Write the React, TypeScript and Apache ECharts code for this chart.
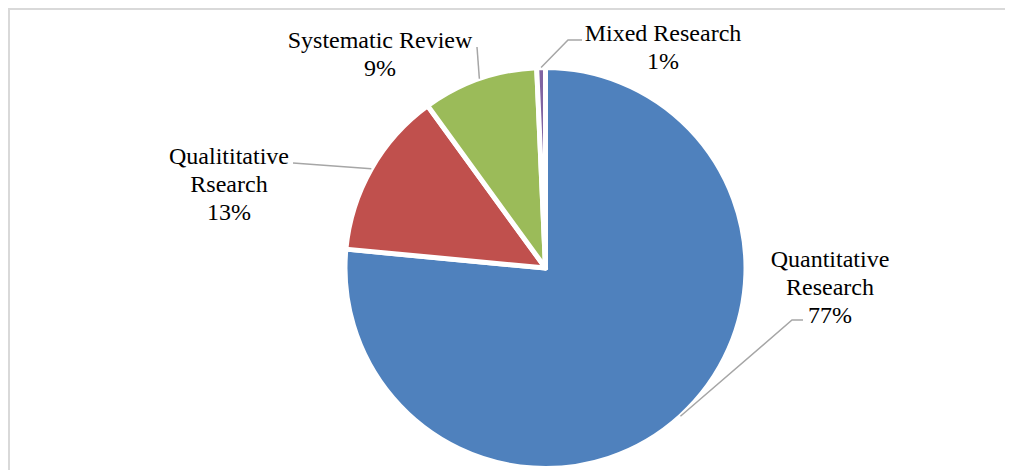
import React, { useEffect, useRef } from "react";
import * as echarts from "echarts";

const categories = ["Quantitative\nResearch", "Qualititative\nRsearch", "Systematic Review", "Mixed Research"];
const values = [76.5, 13.5, 9.3, 0.7];
const percentLabels = ["77%", "13%", "9%", "1%"];
const colors = ["#4F81BD", "#C0504D", "#9BBB59", "#8064A2"];
const labelPos = [
  [820, 277],
  [219, 174],
  [370, 44],
  [653, 37],
];
// elbow and end of each leader line (chart coords)
const leaderPts = [
  [[782, 310], [793, 310]],
  [[283, 153], [283, 153]],
  [[467, 37], [467, 37]],
  [[558, 30], [572, 30]],
];

const CX = 535.5;
const CY = 258;
const R = 200.5;

export default function App() {
  const ref = useRef<HTMLDivElement>(null);
  useEffect(() => {
    document.body.style.overflow = "hidden";
    const chart = echarts.init(ref.current!, undefined, { renderer: "svg" });
    const total = values.reduce((a, b) => a + b, 0);
    let acc = 0;
    const lines = values.map((v, i) => {
      const mid = ((acc + v / 2) / total) * Math.PI * 2; // clockwise from top
      acc += v;
      const ax = CX + R * Math.sin(mid);
      const ay = CY - R * Math.cos(mid);
      return {
        type: "polyline",
        silent: true,
        shape: { points: [[ax, ay], leaderPts[i][0], leaderPts[i][1]] },
        style: { stroke: "#a6a6a6", lineWidth: 1.5, fill: "none" },
        z: 10,
      };
    });
    const font = "'Times New Roman', 'Liberation Serif', serif";
    chart.setOption({
      animation: false,
      backgroundColor: "#ffffff",
      textStyle: { fontFamily: font },
      graphic: lines,
      series: [
        {
          type: "pie",
          center: [CX, CY],
          radius: R,
          startAngle: 90,
          clockwise: true,
          data: categories.map((c, i) => ({ name: c, value: values[i], itemStyle: { color: colors[i] } })),
          itemStyle: { borderColor: "#ffffff", borderWidth: 5 },
          label: {
            show: true,
            formatter: (p: any) => `${p.name}\n${percentLabels[p.dataIndex]}`,
            fontFamily: font,
            fontSize: 24,
            lineHeight: 28,
            color: "#000000",
            align: "center",
          },
          labelLine: { show: false },
          labelLayout: (params: any) => ({
            x: labelPos[params.dataIndex][0],
            y: labelPos[params.dataIndex][1],
            align: "center",
            verticalAlign: "middle",
          }),
        },
      ],
    });
    return () => chart.dispose();
  }, []);
  return (
    <div
      ref={ref}
      style={{
        width: 1005,
        height: 462,
        borderLeft: "2px solid #d9d9d9",
        borderTop: "2px solid #d9d9d9",
        boxSizing: "border-box",
      }}
    />
  );
}
